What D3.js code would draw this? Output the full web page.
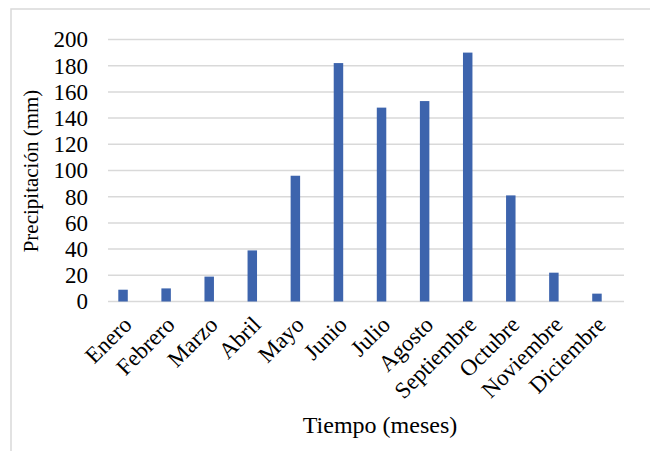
<!DOCTYPE html>
<html><head><meta charset="utf-8">
<script src="https://cdn.jsdelivr.net/npm/d3@7"></script>
<style>body{margin:0;background:#fff}svg{display:block}</style>
</head><body>
<svg id="c" width="650" height="451"></svg>
<script>
const months = ["Enero","Febrero","Marzo","Abril","Mayo","Junio","Julio","Agosto","Septiembre","Octubre","Noviembre","Diciembre"];
const precip = [9,10,19,39,96,182,148,153,190,81,22,6];
const yTicks = [0,20,40,60,80,100,120,140,160,180,200];
const yTitle = "Precipitación (mm)";
const xTitle = "Tiempo (meses)";

const svg = d3.select("#c");
const font = "'Liberation Serif','Times New Roman',serif";

svg.append("rect").attr("x",11).attr("y",9).attr("width",700).attr("height",500)
  .attr("fill","#fff").attr("stroke","#d9d9d9").attr("stroke-width",1.5);

const y = d3.scaleLinear().domain([0,200]).range([301.5,39.5]);
const x = d3.scaleBand().domain(months).range([101.5,618.5]).paddingInner(0.78).paddingOuter(0.39);

// gridlines
svg.append("g").selectAll("line").data(yTicks).join("line")
  .attr("x1",108).attr("x2",624)
  .attr("y1",d=>y(d)).attr("y2",d=>y(d))
  .attr("stroke","#d9d9d9").attr("stroke-width",1.5);

// y axis labels
const yAxis = d3.axisLeft(y).tickValues(yTicks).tickSize(0).tickPadding(0);
const gy = svg.append("g").attr("transform","translate(88,0)").call(yAxis);
gy.select(".domain").remove();
gy.selectAll("text").attr("font-family",font).attr("font-size",23).attr("fill","#000");

// bars
svg.append("g").selectAll("rect").data(precip).join("rect")
  .attr("x",(d,i)=>x(months[i]))
  .attr("width",x.bandwidth())
  .attr("y",d=>y(d))
  .attr("height",d=>y(0)-y(d))
  .attr("fill","#3d64ad");

// x labels
const xAxis = d3.axisBottom(x).tickSize(0).tickPadding(0);
const gx = svg.append("g").attr("transform","translate(0,306)").call(xAxis);
gx.select(".domain").remove();
gx.selectAll("text").attr("font-family",font).attr("font-size",23).attr("fill","#000")
  .attr("text-anchor","end").attr("dy",0).attr("y",0)
  .attr("transform","translate(10,20) rotate(-45)");

// titles
svg.append("text").attr("transform","translate(38,171) rotate(-90)")
  .attr("text-anchor","middle").attr("font-family",font).attr("font-size",21).text(yTitle);
svg.append("text").attr("x",380).attr("y",433).attr("text-anchor","middle")
  .attr("font-family",font).attr("font-size",24).text(xTitle);
</script>
</body></html>
